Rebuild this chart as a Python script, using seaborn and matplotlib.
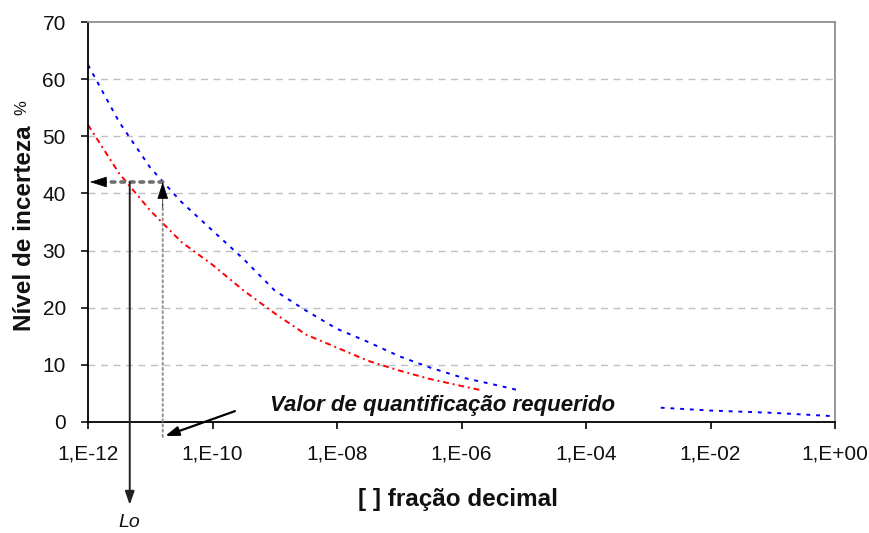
import numpy as np
import pandas as pd
import matplotlib
matplotlib.use("Agg")
import matplotlib.pyplot as plt
import seaborn as sns

# ── Data ──────────────────────────────────────────────────────────────────────
blue_exp = [-12, -11.5, -11, -10.5, -10, -9.5, -9, -8.5, -8, -7.5, -7, -6.5, -6, -5.5, -5.1]
blue_val = [62.5, 52.5, 44.5, 38.5, 33.5, 28.5, 23, 19.5, 16.3, 14, 11.5, 9.5, 7.8, 6.6, 5.6]
blue_tail_exp = [-2.8, -2, -1, 0]
blue_tail_val = [2.5, 2.0, 1.6, 1.0]
red_exp = [-12, -11.5, -11, -10.5, -10, -9.5, -9, -8.5, -8, -7.5, -7, -6.5, -6, -5.7]
red_val = [52, 43.5, 37, 31.5, 27.5, 23, 19, 15.3, 13, 10.7, 9, 7.5, 6.3, 5.6]

x_ticks = [-12, -10, -8, -6, -4, -2, 0]
x_labels = ["1,E-12", "1,E-10", "1,E-08", "1,E-06", "1,E-04", "1,E-02", "1,E+00"]
y_ticks = [0, 10, 20, 30, 40, 50, 60, 70]

LEVEL = 42          # required uncertainty level
REQ_EXP = -10.8     # required quantification value
LO_EXP = -11.33     # Lo

# ── Frame ─────────────────────────────────────────────────────────────────────
df = pd.concat([
    pd.DataFrame({"x": np.power(10.0, blue_exp), "y": blue_val, "serie": "azul", "seg": "a1"}),
    pd.DataFrame({"x": np.power(10.0, blue_tail_exp), "y": blue_tail_val, "serie": "azul", "seg": "a2"}),
    pd.DataFrame({"x": np.power(10.0, red_exp), "y": red_val, "serie": "verm", "seg": "v1"}),
])

sns.set_style("white")
plt.rcParams["font.family"] = ["Liberation Sans", "DejaVu Sans"]
plt.rcParams.update({"text.color": "#111111", "axes.labelcolor": "#111111",
                     "xtick.color": "#111111", "ytick.color": "#111111"})

fig = plt.figure(figsize=(8.69, 5.33), dpi=100)
ax = fig.add_axes([0.1013, 0.2083, 0.8596, 0.7504])

sns.lineplot(data=df, x="x", y="y", hue="serie", units="seg", estimator=None,
             palette={"azul": "#0000ff", "verm": "#ff0000"}, style="serie",
             dashes={"azul": (2, 3), "verm": (3, 2, 1, 2)}, linewidth=1.4,
             legend=False, ax=ax)

ax.set_xscale("log")
ax.set_xlim(1e-12, 1)
ax.set_ylim(0, 70)
ax.set_xticks([10.0 ** e for e in x_ticks])
ax.set_xticklabels(x_labels)
ax.minorticks_off()
ax.set_yticks(y_ticks)
ax.tick_params(axis="both", direction="out", length=5, width=1.2, labelsize=15,
               bottom=True, left=True)
ax.tick_params(axis="x", pad=11)
ax.tick_params(axis="y", pad=11)
ax.tick_params(axis="x", colors="black", labelcolor="#111111")

for y in y_ticks[1:-1]:
    ax.axhline(y, color="#c0c0c0", ls=(0, (5, 4)), lw=1, zorder=0)

for s in ["left", "bottom"]:
    ax.spines[s].set_color("black")
    ax.spines[s].set_linewidth(1.3)
for s in ["top", "right"]:
    ax.spines[s].set_color("#909090")
    ax.spines[s].set_linewidth(1.3)

ax.set_xlabel("[ ] fração decimal", fontsize=17.5, fontweight="bold")
ax.xaxis.set_label_coords(0.495, -0.165)
ax.set_ylabel("")
ax.text(-0.0857, 0.485, "Nível de incerteza", rotation=90, transform=ax.transAxes,
        ha="center", va="center", fontsize=17.5, fontweight="bold")
ax.text(-0.088, 0.785, "%", rotation=90, transform=ax.transAxes,
        ha="center", va="center", fontsize=12)

# ── Annotations ───────────────────────────────────────────────────────────────
# horizontal dotted guide + solid head
ax.annotate("", xy=(10 ** -11.75, LEVEL), xytext=(10 ** REQ_EXP, LEVEL), annotation_clip=False,
            arrowprops=dict(arrowstyle="-", color="#707070", ls=":", lw=2.6,
                            shrinkA=0, shrinkB=0))
ax.annotate("", xy=(10 ** -11.97, LEVEL), xytext=(10 ** -11.7, LEVEL), annotation_clip=False,
            arrowprops=dict(arrowstyle="-|>,head_length=1.1,head_width=0.35", color="black",
                            lw=0.5, shrinkA=0, shrinkB=0))
# vertical dotted guide + solid head
ax.annotate("", xy=(10 ** REQ_EXP, 38), xytext=(10 ** REQ_EXP, -2.6), annotation_clip=False,
            arrowprops=dict(arrowstyle="-", color="#909090", ls=":", lw=1.4,
                            shrinkA=0, shrinkB=0))
ax.annotate("", xy=(10 ** REQ_EXP, LEVEL), xytext=(10 ** REQ_EXP, 37.5), annotation_clip=False,
            arrowprops=dict(arrowstyle="-|>,head_length=1.1,head_width=0.35", color="black",
                            lw=0.5, shrinkA=0, shrinkB=0))
# Lo arrow
ax.annotate("", xy=(10 ** LO_EXP, -14.5), xytext=(10 ** LO_EXP, LEVEL), annotation_clip=False,
            arrowprops=dict(arrowstyle="-|>,head_length=0.8,head_width=0.28", color="#222222",
                            lw=1.4, shrinkA=0, shrinkB=0))
ax.text(10 ** LO_EXP, -17.6, "Lo", ha="center", va="center", fontsize=14,
        fontstyle="italic", clip_on=False)

ax.text(10 ** -6.3, 2.8, "Valor de quantificação requerido", ha="center", va="center",
        fontsize=16, fontstyle="italic", fontweight="bold")
ax.annotate("", xy=(10 ** -10.76, -2.45), xytext=(10 ** -9.64, 1.9), annotation_clip=False,
            arrowprops=dict(arrowstyle="-|>,head_length=0.8,head_width=0.28", color="black",
                            lw=1.6, shrinkA=0, shrinkB=0))

fig.savefig("out.png", dpi=100)
